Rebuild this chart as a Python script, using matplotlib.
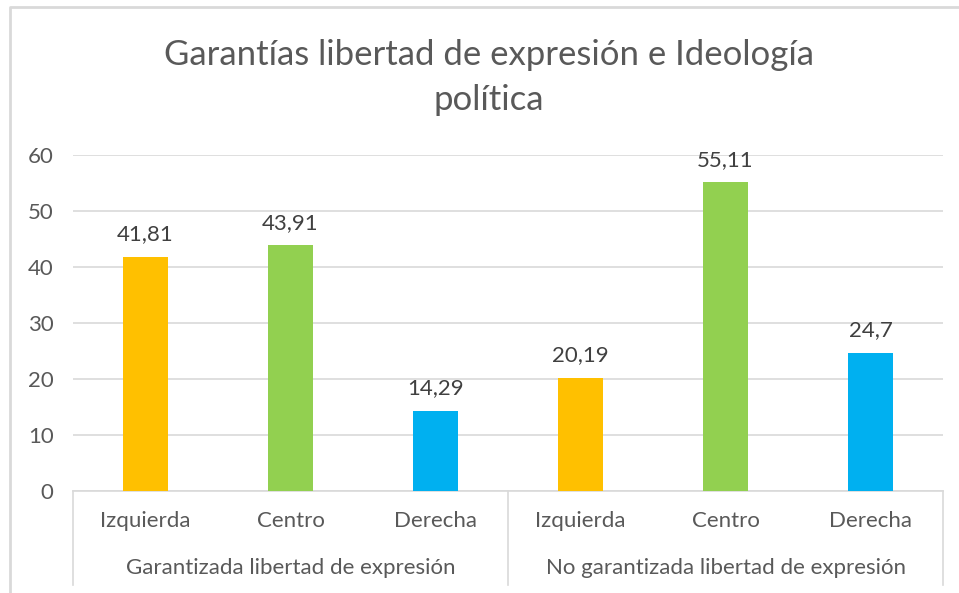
import numpy as np
import matplotlib
matplotlib.use("Agg")
import matplotlib.pyplot as plt
import matplotlib.transforms as mtransforms

# data
groups = ["Garantizada libertad de expresión", "No garantizada libertad de expresión"]
ideologies = ["Izquierda", "Centro", "Derecha"]
values_garantizada = [41.81, 43.91, 14.29]
values_no_garantizada = [20.19, 55.11, 24.7]
colors = ["#FFC000", "#92D050", "#00B0F0"]

plt.rcParams["font.family"] = ["Lato", "DejaVu Sans"]
text_color = "#595959"
grid_color = "#D9D9D9"

W, H = 959, 593
fig = plt.figure(figsize=(W / 100, H / 100), dpi=100)

# plot area in pixels
left, right, bottom, top = 73, 943, 491, 155
ax = fig.add_axes([left / W, 1 - bottom / H, (right - left) / W, (bottom - top) / H])

all_values = values_garantizada + values_no_garantizada
labels = ideologies * 2
bar_colors = colors * 2
x = np.arange(len(all_values))
ax.bar(x, all_values, width=0.31, color=bar_colors, zorder=3)

for xi, v in zip(x, all_values):
    txt = f"{v:g}".replace(".", ",")
    ax.annotate(txt, (xi, v), xytext=(0, 9), textcoords="offset points",
                ha="center", va="bottom", fontsize=16, color="#404040")

ax.set_xlim(-0.5, len(all_values) - 0.5)
ax.set_ylim(0, 60)
ax.set_yticks(np.arange(0, 61, 10))
ax.yaxis.grid(True, color=grid_color, linewidth=1.2, zorder=0)
ax.tick_params(axis="y", length=0, pad=14, labelsize=16, labelcolor=text_color)
ax.tick_params(axis="x", length=0)
ax.set_xticks([])
for s in ["left", "right", "top"]:
    ax.spines[s].set_visible(False)
ax.spines["bottom"].set_color(grid_color)
ax.spines["bottom"].set_linewidth(1.2)

# multi-level category axis
trans = mtransforms.blended_transform_factory(ax.transData, ax.transAxes)
axis_h = bottom - top
sub_y = -(521 - bottom) / axis_h
grp_y = -(568 - bottom) / axis_h
sep_end = -(585 - bottom) / axis_h
for xi, lab in zip(x, labels):
    ax.text(xi, sub_y, lab, transform=trans, ha="center", va="center",
            fontsize=16, color=text_color)
for gi, g in enumerate(groups):
    ax.text(gi * 3 + 1, grp_y, g, transform=trans, ha="center", va="center",
            fontsize=16, color=text_color)
for sx in [-0.5, 2.5, 5.5]:
    ax.plot([sx, sx], [0, sep_end], transform=trans, color=grid_color,
            linewidth=1.2, clip_on=False)

# title
fig.text(489 / W, 1 - 55 / H, "Garantías libertad de expresión e Ideología",
         ha="center", va="center", fontsize=25, color=text_color)
fig.text(489 / W, 1 - 100 / H, "política",
         ha="center", va="center", fontsize=25, color=text_color)

# chart border (top and left edges)
fig.add_artist(plt.Line2D([10 / W, 10 / W, 1], [0, 1 - 7 / H, 1 - 7 / H],
                          transform=fig.transFigure, color=grid_color, linewidth=2))

fig.savefig("out.png", dpi=100)
